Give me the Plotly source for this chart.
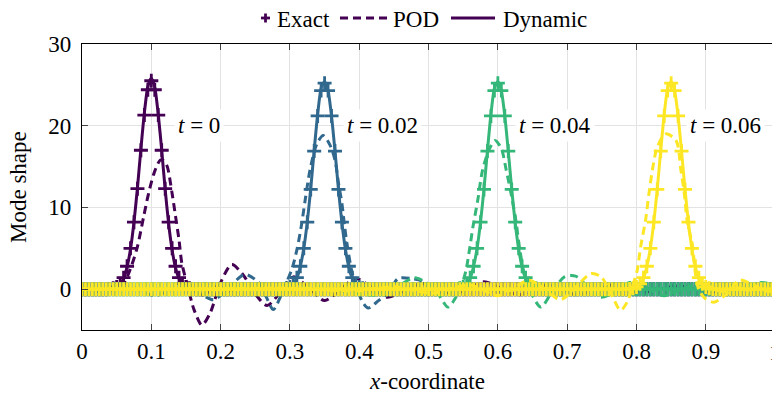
import plotly.graph_objects as go

# ---------------- data ----------------
times = ["0", "0.02", "0.04", "0.06"]
colors = ["#440154", "#31688e", "#35b779", "#fde725"]
centers_idx = [20, 70, 120, 170]          # grid index of pulse centre (x = 0.1, 0.35, 0.6, 0.85)
label_x = [0.169, 0.433, 0.683, 0.929]
label_y = 20
legend_names = ["Exact", "POD", "Dynamic"]

x_grid = [round(i * 0.005, 3) for i in range(201)]

# Exact solution: values around each pulse (grid step 0.005, centre at index 12)
exact_t0 = [0.03, 0.1, 0.27, 0.65, 1.4, 2.8, 5.0, 8.2, 12.3, 17.0, 21.3, 24.4, 25.5, 24.4, 21.3, 17.0, 12.3, 8.2, 5.0, 2.8, 1.4, 0.65, 0.27, 0.1, 0.03]
exact_t1 = [0.03, 0.1, 0.27, 0.65, 1.4, 2.8, 5.0, 8.2, 12.2, 16.9, 21.2, 24.3, 25.2, 24.3, 21.2, 16.9, 12.2, 8.2, 5.0, 2.8, 1.4, 0.65, 0.27, 0.1, 0.03]
exact_t2 = [0.03, 0.1, 0.27, 0.65, 1.4, 2.8, 5.0, 8.2, 12.2, 16.9, 21.2, 24.3, 25.2, 24.3, 21.2, 16.9, 12.2, 8.2, 5.0, 2.8, 1.4, 0.65, 0.27, 0.1, 0.03]
exact_t3 = [0.03, 0.1, 0.27, 0.65, 1.4, 2.8, 5.0, 8.2, 12.2, 16.9, 21.2, 24.3, 25.2, 24.3, 21.2, 16.9, 12.2, 8.2, 5.0, 2.8, 1.4, 0.65, 0.27, 0.1, 0.03]

# Dynamic approximation: values around each pulse (centre at index 12, trailing ripple)
dyn_t0 = [0.0, 0.05, 0.2, 0.6, 1.3, 2.7, 4.9, 8.2, 12.4, 17.2, 21.6, 24.8, 25.8, 24.7, 21.4, 17.0, 12.2, 8.0, 4.8, 2.6, 1.3, 0.8, 0.6, 0.5, 0.2, -0.3, -0.6, -0.7, -0.5, -0.1, 0.2, 0.3, 0.2, 0.0, -0.2, -0.2, 0.0]
dyn_t1 = [0.05, 0.1, 0.25, 0.6, 1.3, 2.8, 5.0, 8.2, 12.3, 17.0, 21.4, 24.6, 25.4, 24.3, 21.2, 16.9, 12.2, 8.1, 4.9, 2.7, 1.3, 0.6, 0.3, 0.3, 0.2, 0.0, -0.3, -0.4, -0.3, 0.0, 0.2, 0.2, 0.1, 0.0, -0.1, -0.1, 0.0]
dyn_t2 = [0.05, 0.1, 0.25, 0.6, 1.3, 2.8, 5.0, 8.2, 12.3, 17.0, 21.4, 24.6, 25.4, 24.3, 21.2, 16.9, 12.2, 8.1, 4.9, 2.7, 1.3, 0.6, 0.3, 0.2, 0.1, -0.1, -0.3, -0.3, -0.2, 0.0, 0.2, 0.2, 0.1, 0.0, -0.1, -0.1, 0.0]
dyn_t3 = [0.05, 0.1, 0.25, 0.6, 1.3, 2.8, 5.0, 8.2, 12.3, 17.0, 21.4, 24.6, 25.4, 24.3, 21.2, 16.9, 12.2, 8.1, 4.9, 2.7, 1.3, 0.6, 0.3, 0.2, 0.1, -0.1, -0.2, -0.3, -0.2, 0.0, 0.1, 0.2, 0.1, 0.0, -0.1, -0.1, 0.0]

# POD approximation (read at distinct points along each dashed curve)
pod_t0_x = [0.0, 0.02, 0.04, 0.055, 0.063, 0.072, 0.08, 0.089, 0.096, 0.104, 0.113, 0.118, 0.123, 0.13, 0.135, 0.14, 0.144, 0.152, 0.162, 0.173, 0.185, 0.2, 0.216, 0.232, 0.25, 0.267, 0.285, 0.305, 0.328, 0.35, 0.372, 0.395, 0.418, 0.44, 0.465, 0.49, 0.512, 0.535, 0.558, 0.58, 0.605, 0.63, 0.65, 0.67, 0.69, 0.715, 0.738, 0.76, 0.785, 0.81, 0.835, 0.86, 0.885, 0.91, 0.935, 0.96, 0.98, 1.0]
pod_t0_y = [0.0, 0.1, -0.1, 0.2, 1.1, 3.0, 5.2, 8.9, 11.7, 14.2, 15.8, 15.7, 15.0, 11.7, 8.9, 6.0, 3.2, 0.5, -2.6, -4.4, -2.9, 0.8, 3.0, 1.8, -0.6, -2.0, -0.5, 1.5, 0.1, -1.4, -0.1, 1.3, 0.2, -1.0, -0.2, 0.7, 0.1, -0.6, 0.1, 0.9, 0.1, -0.7, -0.1, 0.5, -0.1, -0.7, -0.1, 0.5, 0.0, -0.4, 0.0, 0.4, 0.0, -0.3, 0.0, 0.3, 0.1, 0.0]

pod_t1_x = [0.0, 0.03, 0.07, 0.105, 0.14, 0.165, 0.19, 0.213, 0.235, 0.255, 0.266, 0.276, 0.287, 0.296, 0.303, 0.31, 0.316, 0.322, 0.329, 0.339, 0.348, 0.358, 0.365, 0.37, 0.375, 0.379, 0.383, 0.389, 0.396, 0.405, 0.413, 0.428, 0.442, 0.456, 0.475, 0.49, 0.505, 0.53, 0.55, 0.575, 0.6, 0.625, 0.65, 0.7, 0.75, 0.8, 0.85, 0.9, 0.95, 1.0]
pod_t1_y = [0.0, -0.3, 0.3, -0.8, 0.3, -0.3, -1.3, 0.3, 1.8, 0.8, -1.0, -2.5, -0.8, 1.0, 2.5, 4.8, 7.5, 10.9, 14.6, 17.8, 18.8, 17.6, 15.8, 13.0, 10.5, 7.6, 5.2, 2.3, 0.3, -1.6, -2.3, -1.4, -0.5, 1.3, 1.3, 1.0, -0.4, -0.3, 0.5, 0.1, -0.4, 0.0, 0.3, -0.2, 0.2, -0.1, 0.1, -0.1, 0.1, 0.0]

pod_t2_x = [0.0, 0.1, 0.2, 0.24, 0.29, 0.34, 0.385, 0.43, 0.455, 0.48, 0.5, 0.514, 0.528, 0.538, 0.547, 0.554, 0.559, 0.564, 0.571, 0.578, 0.588, 0.596, 0.605, 0.612, 0.619, 0.626, 0.631, 0.638, 0.646, 0.662, 0.677, 0.696, 0.712, 0.73, 0.748, 0.77, 0.79, 0.815, 0.84, 0.86, 0.88, 0.905, 0.93, 0.955, 0.98, 1.0]
pod_t2_y = [0.0, 0.0, 0.1, 0.2, -0.2, 0.3, -0.4, -0.7, 0.3, 1.4, 0.6, -0.6, -2.2, -1.2, 0.3, 2.3, 4.8, 7.6, 10.9, 14.6, 17.2, 18.2, 17.2, 14.6, 11.7, 8.4, 5.2, 1.9, -0.1, -2.2, -0.5, 1.5, 1.6, 0.3, -1.0, -0.3, 0.8, 0.1, -0.8, -0.2, 0.4, 0.0, -0.4, 0.2, 0.8, 0.5]

pod_t3_x = [0.0, 0.15, 0.3, 0.4, 0.45, 0.505, 0.56, 0.6, 0.622, 0.645, 0.668, 0.69, 0.712, 0.734, 0.749, 0.763, 0.777, 0.787, 0.794, 0.801, 0.806, 0.813, 0.818, 0.823, 0.83, 0.842, 0.857, 0.864, 0.869, 0.873, 0.881, 0.885, 0.89, 0.9, 0.912, 0.924, 0.936, 0.948, 0.969, 0.985, 1.0]
pod_t3_y = [0.0, 0.0, 0.1, -0.2, 0.3, -0.5, 0.5, -0.8, 0.1, 1.1, 0.0, -1.3, 0.2, 1.9, 1.5, -0.5, -2.6, -1.5, 0.3, 2.3, 5.2, 8.4, 11.7, 14.6, 17.4, 19.0, 18.2, 14.6, 11.7, 8.4, 5.2, 1.9, -0.1, -1.2, -1.6, -1.0, -0.1, 1.1, 0.5, -0.2, -0.3]

x_tick_vals = [0, 0.1, 0.2, 0.3, 0.4, 0.5, 0.6, 0.7, 0.8, 0.9]
x_tick_text = ["0", "0.1", "0.2", "0.3", "0.4", "0.5", "0.6", "0.7", "0.8", "0.9"]
y_tick_vals = [0, 10, 20, 30]

exact_all = [exact_t0, exact_t1, exact_t2, exact_t3]
dyn_all = [dyn_t0, dyn_t1, dyn_t2, dyn_t3]
pod_all = [(pod_t0_x, pod_t0_y), (pod_t1_x, pod_t1_y), (pod_t2_x, pod_t2_y), (pod_t3_x, pod_t3_y)]


def on_grid(segment, centre, before=12):
    arr = [0.0] * len(x_grid)
    for k, v in enumerate(segment):
        j = centre - before + k
        if 0 <= j < len(arr):
            arr[j] = v
    return arr


FONT = "Liberation Serif"
FS = 23
DASH = "8px,5px"

# plot-area geometry (pixels) used to place the hand-made legend in paper units
L, T, W, H = 82, 44, 690, 286


def px2paper_x(px):
    return (px - L) / W


def py2paper_y(py):
    return 1 + (T - py) / H


fig = go.Figure()
for k in range(4):
    col = colors[k]
    fig.add_trace(go.Scatter(
        x=x_grid, y=on_grid(exact_all[k], centers_idx[k]), mode="markers",
        marker=dict(symbol="cross-thin", size=10, color=col, line=dict(color=col, width=2.8)),
        name="Exact", showlegend=False))
    px_, py_ = pod_all[k]
    fig.add_trace(go.Scatter(
        x=px_, y=py_, mode="lines",
        line=dict(color=col, width=3, dash=DASH, shape="spline", smoothing=0.8),
        name="POD", showlegend=False))
    fig.add_trace(go.Scatter(
        x=x_grid, y=on_grid(dyn_all[k], centers_idx[k]), mode="lines",
        line=dict(color=col, width=3, shape="spline", smoothing=0.6),
        name="Dynamic", showlegend=False))

for k in range(4):
    fig.add_annotation(x=label_x[k], y=label_y, xref="x", yref="y",
                       text="<i>t</i> = " + times[k], showarrow=False,
                       font=dict(family=FONT, size=FS, color="black"),
                       bgcolor="white", borderpad=3, xanchor="center", yanchor="middle")

# ---- hand-made legend (Exact marker, POD dashed, Dynamic solid) ----
lc = colors[0]
ly = py2paper_y(18)
half_h = 4.5 / H
fig.add_shape(type="line", xref="paper", yref="paper", x0=px2paper_x(261), x1=px2paper_x(270),
              y0=ly, y1=ly, line=dict(color=lc, width=2.8))
fig.add_shape(type="line", xref="paper", yref="paper", x0=px2paper_x(265.5), x1=px2paper_x(265.5),
              y0=ly - half_h, y1=ly + half_h, line=dict(color=lc, width=2.8))
fig.add_shape(type="line", xref="paper", yref="paper", x0=px2paper_x(340), x1=px2paper_x(387),
              y0=ly, y1=ly, line=dict(color=lc, width=3, dash=DASH))
fig.add_shape(type="line", xref="paper", yref="paper", x0=px2paper_x(451), x1=px2paper_x(495),
              y0=ly, y1=ly, line=dict(color=lc, width=3))
for name, tx in zip(legend_names, [275, 391, 501]):
    fig.add_annotation(x=px2paper_x(tx), y=py2paper_y(20), xref="paper", yref="paper",
                       text=name, showarrow=False, xanchor="left", yanchor="middle",
                       font=dict(family=FONT, size=FS, color="black"))

# partially visible last tick label (axis extends just past the image)
fig.add_annotation(x=1.0047, y=0, xref="paper", yref="paper", text="1", showarrow=False,
                   font=dict(family=FONT, size=FS, color="black"),
                   xanchor="center", yanchor="top", yshift=-8)

# axis titles
fig.add_annotation(x=0.5, y=0, xref="paper", yref="paper", text="<i>x</i>-coordinate",
                   showarrow=False, font=dict(family=FONT, size=FS, color="black"),
                   xanchor="center", yanchor="middle", yshift=-51)
fig.add_annotation(x=0, y=0.5, xref="paper", yref="paper", text="Mode shape", textangle=-90,
                   showarrow=False, font=dict(family=FONT, size=FS, color="black"),
                   xanchor="center", yanchor="middle", xshift=-64)

fig.update_layout(
    width=772, height=394,
    margin=dict(l=L, r=772 - L - W, t=T, b=394 - T - H, autoexpand=False),
    paper_bgcolor="white", plot_bgcolor="white",
    font=dict(family=FONT, size=FS, color="black"),
    showlegend=False,
    xaxis=dict(range=[0, 0.9955], tickvals=x_tick_vals, ticktext=x_tick_text,
               ticks="inside", ticklen=6, tickcolor="#444", tickwidth=1,
               showline=True, linecolor="black", linewidth=1.2, mirror="ticks",
               showgrid=True, gridcolor="#e3e3e3", gridwidth=1, zeroline=False,
               ticklabelstandoff=0),
    yaxis=dict(range=[-5, 30], tickvals=y_tick_vals,
               ticks="inside", ticklen=6, tickcolor="#444", tickwidth=1,
               showline=True, linecolor="black", linewidth=1.2, mirror=False,
               showgrid=True, gridcolor="#e3e3e3", gridwidth=1, zeroline=False,
               ticklabelstandoff=5),
)

fig.write_html("out.html")
